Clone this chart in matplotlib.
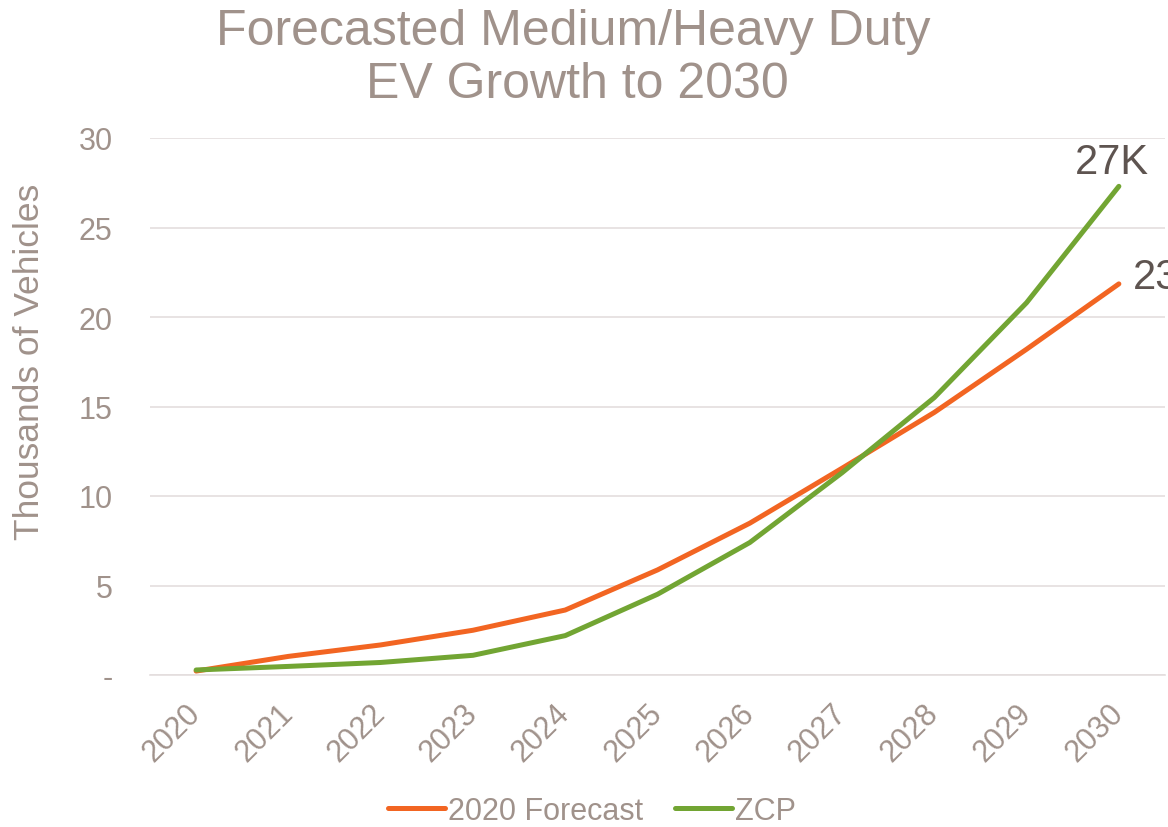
import matplotlib
matplotlib.use("Agg")
import matplotlib.pyplot as plt

years = ["2020", "2021", "2022", "2023", "2024", "2025", "2026", "2027", "2028", "2029", "2030"]
forecast_2020 = [0.22, 1.04, 1.68, 2.5, 3.63, 5.87, 8.48, 11.55, 14.67, 18.2, 21.85]
zcp = [0.28, 0.48, 0.7, 1.1, 2.2, 4.51, 7.40, 11.3, 15.5, 20.8, 27.3]
ytick_vals = [0, 5, 10, 15, 20, 25, 30]
ytick_labels = ["-", "5", "10", "15", "20", "25", "30"]
end_labels = ["23K", "27K"]
series_names = ["2020 Forecast", "ZCP"]

TXT = "#A0928B"
ORANGE = "#F26522"
GREEN = "#72A533"
LABEL = "#5E5450"
GRID = "#E4DEDE"

plt.rcParams["font.family"] = ["Liberation Sans", "DejaVu Sans"]

fig = plt.figure(figsize=(11.68, 8.28), dpi=100)
ax = fig.add_axes([150 / 1168, 1 - 676 / 828, (1165 - 150) / 1168, (676 - 139) / 828])

x = list(range(len(years)))
l1, = ax.plot(x, forecast_2020, color=ORANGE, lw=3.6, solid_capstyle="round", solid_joinstyle="round", label=series_names[0], zorder=3)
l2, = ax.plot(x, zcp, color=GREEN, lw=3.6, solid_capstyle="round", solid_joinstyle="round", label=series_names[1], zorder=4)

ax.set_xlim(-0.5, len(years) - 0.5)
ax.set_ylim(0, 30)
ax.set_yticks(ytick_vals)
ax.set_yticklabels(ytick_labels)
ax.set_xticks(x)
ax.set_xticklabels(years, rotation=45, ha="right", va="center", rotation_mode="anchor")

ax.tick_params(axis="y", length=0, pad=27, labelsize=22, labelcolor=TXT)
ax.tick_params(axis="x", length=0, pad=24, labelsize=22, labelcolor=TXT)

for s in ["top", "right", "left"]:
    ax.spines[s].set_visible(False)
ax.spines["bottom"].set_color(GRID)
ax.spines["bottom"].set_linewidth(1.2)
ax.grid(axis="y", color=GRID, lw=1.2)
ax.set_axisbelow(True)

ax.annotate(end_labels[0], (x[-1], forecast_2020[-1]), xytext=(10, 5), textcoords="offset points",
            ha="left", va="center", fontsize=30, color=LABEL, annotation_clip=False)
ax.annotate(end_labels[1], (x[-1], zcp[-1]), xytext=(-5, 9.5), textcoords="offset points",
            ha="center", va="baseline", fontsize=30, color=LABEL, annotation_clip=False)

fig.text(573 / 1168, 1 - 45 / 828, "Forecasted Medium/Heavy Duty", ha="center", va="baseline", fontsize=36, color=TXT)
fig.text(577 / 1168, 1 - 98 / 828, "EV Growth to 2030", ha="center", va="baseline", fontsize=36, color=TXT)
fig.text(30 / 1168, 1 - 362 / 828, "Thousands of Vehicles", rotation=90, ha="center", va="center", fontsize=25.5, color=TXT)

leg = fig.legend(handles=[l1, l2], loc="center", bbox_to_anchor=(592 / 1168, 1 - 812 / 828), ncol=2,
                 frameon=False, fontsize=22, handlelength=1.85, handletextpad=0.1, columnspacing=1.05,
                 borderpad=0, borderaxespad=0)
for t in leg.get_texts():
    t.set_color(TXT)

fig.savefig("out.png", dpi=100)
